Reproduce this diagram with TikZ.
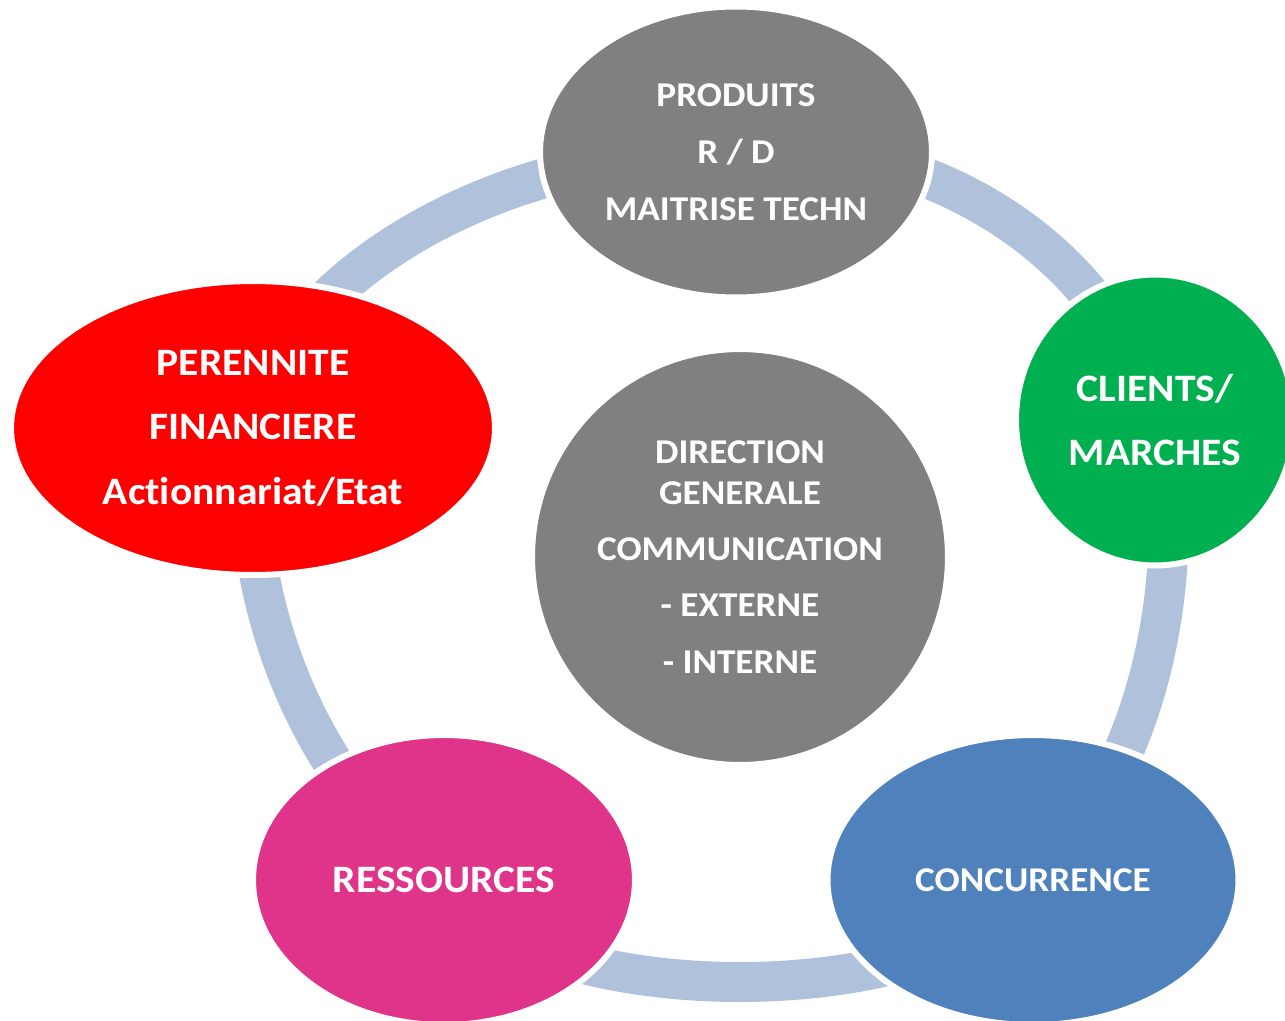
\documentclass[tikz,border=0pt]{standalone}
\usepackage{fontspec}
\setmainfont{Carlito}[FakeStretch=1.07, Ligatures=NoCommon]
\usetikzlibrary{shapes.geometric,backgrounds}
\definecolor{ringblue}{HTML}{B0C1DC}
\definecolor{nodegray}{HTML}{808080}
\definecolor{nodegreen}{HTML}{00B050}
\definecolor{nodeblue}{HTML}{4F81BD}
\definecolor{nodepink}{HTML}{E0338A}
\definecolor{nodered}{HTML}{FF0000}
\begin{document}
\begin{tikzpicture}[x=0.02cm, y=-0.02cm,
	bub/.style={ellipse, draw=white, line width=0.12cm, inner sep=0, text=white, align=center},
	ring/.style={draw=ringblue, line width=0.8cm}]
	\useasboundingbox (0,0) rectangle (1285,1021);

	\node[bub, fill=nodegray, minimum width=7.84cm, minimum height=5.82cm, font=\bfseries\fontsize{19.8}{32.3}\selectfont] (produits) at (736,152) {PRODUITS\\R / D\\MAITRISE TECHN};
	\node[bub, fill=nodegreen, minimum width=5.56cm, minimum height=5.82cm, font=\bfseries\fontsize{22.1}{36.3}\selectfont] (clients) at (1155,420) {CLIENTS/\\MARCHES};
	\node[bub, fill=nodeblue, minimum width=8.22cm, minimum height=5.8cm, font=\bfseries\fontsize{19.8}{30}\selectfont] (concurrence) at (1033,880) {CONCURRENCE};
	\node[bub, fill=nodepink, minimum width=7.64cm, minimum height=5.8cm, font=\bfseries\fontsize{22.1}{30}\selectfont] (ressources) at (444,880) {RESSOURCES};
	\node[bub, fill=nodered, minimum width=9.68cm, minimum height=5.88cm, font=\bfseries\fontsize{22.1}{36.8}\selectfont] (perennite) at (253,428) {PERENNITE\\FINANCIERE\\Actionnariat/Etat};
	\node[bub, fill=nodegray, minimum width=8.32cm, minimum height=8.32cm, font=\bfseries\fontsize{19.8}{32}\selectfont] (direction) at (740,557) {DIRECTION\\[-8.8pt]GENERALE\\COMMUNICATION\\- EXTERNE\\- INTERNE};

	% ring behind the nodes
	\begin{scope}[on background layer]
	\draw[ring] (produits.center) .. controls (880,130) and (1100,220) .. (clients.center);
	\draw[ring] (clients.center) .. controls (1190,540) and (1160,770) .. (concurrence.center);
	\draw[ring] (concurrence.center) .. controls (960,1016) and (520,1016) .. (ressources.center);
	\draw[ring] (ressources.center) .. controls (300,780) and (235,580) .. (perennite.center);
	\draw[ring] (perennite.center) .. controls (270,300) and (470,150) .. (produits.center);
	\end{scope}
\end{tikzpicture}
\end{document}
